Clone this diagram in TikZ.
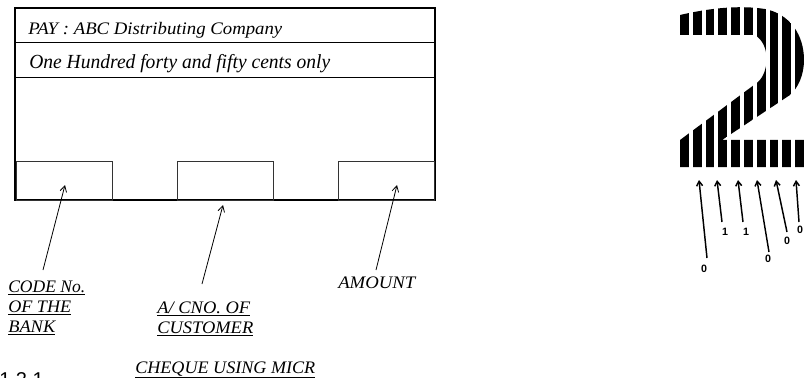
\documentclass[tikz,border=0pt]{standalone}
\usepackage{fontspec}
\usepackage{graphicx}
\setmainfont{Liberation Serif}
\newfontfamily\sansf{Liberation Sans}
\usetikzlibrary{arrows.meta}
\newcommand{\fitw}[2]{\resizebox{#1}{\height}{#2}}
\tikzset{
  frame/.style={draw=black, line width=0.8pt},
  smallbox/.style={draw=black!80, line width=0.7pt, minimum width=72pt, minimum height=29.25pt, inner sep=0pt},
  ptr/.style={draw=black, line width=0.6pt, -{Straight Barb[length=4.5pt,width=5pt]}},
  bitptr/.style={draw=black, line width=1.1pt, -{Straight Barb[length=3.5pt,width=4.5pt]}},
  lbl/.style={anchor=base west, inner sep=0pt, font=\itshape\fontsize{13.2}{14}\selectfont},
  bit/.style={inner sep=0pt, font=\sansf\bfseries\fontsize{8}{8}\selectfont}
}
\begin{document}
\begin{tikzpicture}[x=0.75pt,y=-0.75pt]
\useasboundingbox (0,0) rectangle (804,378);
\clip (0,0) rectangle (804,378);
% cheque frame
\coordinate (ftl) at (15,8);
\coordinate (fbr) at (435,200);
\draw[frame] (ftl) rectangle (fbr);
\draw[frame, line width=0.6pt] (15,42) -- (435,42);
\draw[frame, line width=0.6pt] (15,77) -- (435,77);
\draw[line width=1.2pt] (15,200) -- (435,200);
\node[lbl] (pay) at (28,35) {\fitw{190.5pt}{PAY : ABC Distributing Company}};
\node[lbl, font=\itshape\fontsize{15}{16}\selectfont] (words) at (29,69) {\fitw{225.75pt}{One Hundred forty and fifty cents only}};
% MICR boxes
\node[smallbox] (b1) at (64,180.5) {};
\node[smallbox] (b2) at (225.5,180.5) {};
\node[smallbox] (b3) at (386.5,180.5) {};
% labels
\node[lbl] (l1a) at (8,292) {\fitw{57.75pt}{\underline{CODE No.}}};
\node[lbl] (l1b) at (8,312) {\fitw{47.25pt}{\underline{OF THE}}};
\node[lbl] (l1c) at (8,332) {\fitw{35.25pt}{\underline{BANK}}};
\node[lbl] (l2a) at (157,313) {\fitw{69.75pt}{\underline{A/ CNO. OF}}};
\node[lbl] (l2b) at (157,333) {\fitw{72pt}{\underline{CUSTOMER}}};
\node[lbl] (l3) at (338,288) {\fitw{57.75pt}{AMOUNT}};
\node[lbl] (cap) at (135,373) {\fitw{135pt}{\underline{CHEQUE USING MICR}}};
\node[anchor=base west, inner sep=0pt, font=\sansf\fontsize{15}{16}\selectfont] (num) at (-1,386) {1.2.1};
% pointers
\coordinate (s1) at (43,270); \coordinate (t1) at (65,185);
\coordinate (s2) at (202,284); \coordinate (t2) at (223,205);
\coordinate (s3) at (376,270); \coordinate (t3) at (397,185);
\draw[ptr] (s1) -- (t1);
\draw[ptr] (s2) -- (t2);
\draw[ptr] (s3) -- (t3);
% striped digit 2
\begin{scope}
\clip (680,15) .. controls (710,8) and (740,5) .. (765,9) .. controls (790,14) and (804,35) .. (804,60)
  .. controls (804,75) and (798,88) .. (790,95) -- (722,140) -- (804,140) -- (804,167) -- (680,167)
  -- (680,140) -- (758,82) .. controls (769,72) and (771,45) .. (755,35) -- (680,35) -- cycle;
\foreach \k in {0,...,9} {
  \fill[black] ({680+12.8*\k},0) rectangle ({688.8+12.8*\k},170);
}
\end{scope}
% bit pointers
\coordinate (p1) at (707,258); \coordinate (q1) at (699,180);
\coordinate (p2) at (722,222); \coordinate (q2) at (717,180);
\coordinate (p3) at (743,222); \coordinate (q3) at (738,180);
\coordinate (p4) at (769,252); \coordinate (q4) at (757,180);
\coordinate (p5) at (787,232); \coordinate (q5) at (776,180);
\coordinate (p6) at (799,222); \coordinate (q6) at (796,180);
\foreach \i in {1,...,6} { \draw[bitptr] (p\i) -- (q\i); }
\node[bit] (d1) at (704,269) {0};
\node[bit] (d2) at (725,232) {1};
\node[bit] (d3) at (746,232) {1};
\node[bit] (d4) at (768,259) {0};
\node[bit] (d5) at (787,241) {0};
\node[bit] (d6) at (800,230) {0};
\end{tikzpicture}
\end{document}
